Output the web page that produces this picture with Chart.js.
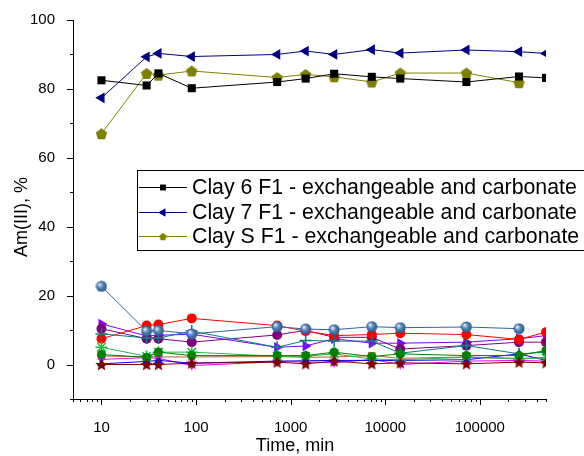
<!DOCTYPE html>
<html>
<head>
<meta charset="utf-8">
<script src="https://cdn.jsdelivr.net/npm/chart.js@4.4.0/dist/chart.umd.min.js"></script>
<style>
body { margin: 0; background: #fff; }
</style>
</head>
<body>
<canvas id="chart" width="584" height="456"></canvas>
<script>
// time points, min
const times = [10, 30, 40, 90, 720, 1440, 2880, 7200, 14400, 72000, 259200, 500000];

// series shown in the legend
const clay6 = [82.5, 81, 84.5, 80.2, 82, 83, 84.4, 83.5, 83, 82, 83.6, 83.2];
const clay7 = [77.4, 89.3, 90.3, 89.4, 90, 91, 90, 91.4, 90.4, 91.3, 90.8, 90.3];
const clayS = [67, 84.5, 84, 85.2, 83.3, 84.2, 83.5, 82, 84.6, 84.6, 81.8, null];

// other fractions (not in legend)
const sphereVals = [22.7, 9.7, 9.9, 8.9, 11, 10.3, 10.1, 11, 10.7, 10.9, 10.4, null];
const redVals = [7.5, 11.3, 11.6, 13.4, 11.3, 9.7, 8.4, 8.7, 9.1, 8.7, 7.3, 9.4];
const purpleVals = [10.4, 7.5, 7.5, 6.5, 8.6, 9.9, 7.9, 7.9, 4.5, 5.5, 6.5, 6.5];
const violetVals = [11.8, 8.3, 8.5, 8.8, 5, 5.4, 7.5, 6.2, 6.2, 6.5, 7.5, 8.4];
const tealVals = [8.9, 7.7, 7.7, 9.7, 5, 7, 6.8, 6.8, 3.3, 5.5, 3.1, 3.6];
const limeVals = [5, 2.4, 3.6, 3.6, 2.4, 2.4, 3.1, 1.6, 1.4, 2.1, 1.6, 2];
const greenVals = [2.9, 2.1, 3.6, 2.6, 2.6, 2.6, 3.6, 2.3, 3.1, 2.6, 2.6, 4.1];
const brownVals = [2.5, 2.2, 2.2, 2.2, 2.3, 2.1, 2.2, 2.6, 1.8, 2.2, 1.8, 2];
const blueVals = [0.2, 0.9, 1.2, 0.4, 1, 1.1, 1.2, 1.2, 1.2, 1.4, 3.1, 1.2];
const magentaVals = [1.5, 2, 1.8, -0.3, 0.8, 0.8, 0.5, 1.5, 0, 1, 1.2, 1];
const starVals = [0, 0, 0, 0.4, 0.7, 0.2, 1, 0.2, 0.5, 0.2, 0.7, 0.5];

const legendLabels = [
    'Clay 6 F1 - exchangeable and carbonate',
    'Clay 7 F1 - exchangeable and carbonate',
    'Clay S F1 - exchangeable and carbonate'
];

const yMajor = [0, 20, 40, 60, 80, 100];
const xMajor = [10, 100, 1000, 10000, 100000];

function makeCanvas(size, draw) {
    const c = document.createElement('canvas');
    c.width = size;
    c.height = size;
    draw(c.getContext('2d'), size / 2);
    return c;
}

function pentagon(size, color) {
    return makeCanvas(size, (g, r) => {
        g.fillStyle = color;
        g.beginPath();
        for (let i = 0; i < 5; i++) {
            const a = -Math.PI / 2 + i * 2 * Math.PI / 5;
            g.lineTo(r + Math.cos(a) * (r - 0.5), r + 0.6 + Math.sin(a) * (r - 0.5));
        }
        g.closePath();
        g.fill();
    });
}

const sphere = makeCanvas(12, (g, r) => {
    const grad = g.createRadialGradient(r - 2, r - 2, 0.5, r, r, r);
    grad.addColorStop(0, '#dce8f4');
    grad.addColorStop(0.45, '#4f82b8');
    grad.addColorStop(1, '#24507e');
    g.fillStyle = grad;
    g.beginPath();
    g.arc(r, r, r - 0.5, 0, Math.PI * 2);
    g.fill();
});

const filledStar = makeCanvas(13, (g, r) => {
    g.fillStyle = '#800000';
    g.beginPath();
    for (let i = 0; i < 10; i++) {
        const a = -Math.PI / 2 + i * Math.PI / 5;
        const rr = i % 2 === 0 ? r : r * 0.45;
        g.lineTo(r + Math.cos(a) * rr, r + 0.5 + Math.sin(a) * rr);
    }
    g.closePath();
    g.fill();
});

function pts(vals) {
    return times.map((t, i) => ({ x: t, y: vals[i] })).filter(p => p.y !== null);
}

function series(label, vals, color, style, radius, extra) {
    return Object.assign({
        label: label,
        data: pts(vals),
        borderColor: color,
        backgroundColor: color,
        pointBackgroundColor: color,
        pointBorderColor: color,
        borderWidth: 1,
        pointBorderWidth: 0,
        pointStyle: style,
        pointRadius: radius,
        pointHoverRadius: radius,
        tension: 0
    }, extra || {});
}

const datasets = [
    series(legendLabels[0], clay6, '#000000', 'rect', 5.7),
    series(legendLabels[1], clay7, '#000080', 'triangle', 6.2, { pointRotation: -90 }),
    series(legendLabels[2], clayS, '#808000', pentagon(13, '#808000'), 6),
    series('s', starVals, '#800000', filledStar, 6),
    series('sp', sphereVals, '#336699', sphere, 6),
    series('g', greenVals, '#008000', 'circle', 4.6),
    series('l', limeVals, '#22bb44', 'star', 6, { pointBorderWidth: 1.5 }),
    series('t', tealVals, '#008080', 'cross', 6, { pointBorderWidth: 1.5 }),
    series('b', blueVals, '#0000ff', 'triangle', 5),
    series('m', magentaVals, '#ff00ff', 'triangle', 5, { pointRotation: 180 }),
    series('br', brownVals, '#b8642c', 'crossRot', 5, { pointBorderWidth: 1.5 }),
    series('r', redVals, '#ff0000', 'circle', 5),
    series('p', purpleVals, '#800080', 'circle', 5),
    series('v', violetVals, '#8000ff', 'triangle', 6, { pointRotation: 90 })
];

const decor = {
    id: 'decor',
    afterDraw(chart) {
        const ctx = chart.ctx;
        const xs = chart.scales.x;
        const ys = chart.scales.y;
        const area = chart.chartArea;
        ctx.save();
        ctx.strokeStyle = '#000';
        ctx.lineWidth = 1;
        ctx.beginPath();
        // y ticks
        for (let v = -10; v <= 100; v += 10) {
            const py = Math.round(ys.getPixelForValue(v)) + 0.5;
            const len = yMajor.includes(v) ? 6 : 3;
            ctx.moveTo(area.left - len, py);
            ctx.lineTo(area.left, py);
        }
        // x ticks
        for (let e = 0; e <= 5; e++) {
            for (let k = 1; k <= 9; k++) {
                const v = k * Math.pow(10, e);
                if (v < 5 || v > 500000) continue;
                const px = Math.round(xs.getPixelForValue(v)) + 0.5;
                const len = k === 1 ? 6 : 3;
                ctx.moveTo(px, area.bottom);
                ctx.lineTo(px, area.bottom + len);
            }
        }
        ctx.stroke();

        // axis titles
        ctx.fillStyle = '#000';
        ctx.font = '18px "Liberation Sans", Arial, sans-serif';
        ctx.textAlign = 'center';
        ctx.textBaseline = 'middle';
        ctx.fillText('Time, min', 295, 446);
        ctx.save();
        ctx.translate(22, 217);
        ctx.rotate(-Math.PI / 2);
        ctx.fillText('Am(III), %', 0, 0);
        ctx.restore();

        // legend
        const lx = 137.5, ly = 170.5;
        ctx.fillStyle = '#fff';
        ctx.fillRect(lx, ly, 460, 80);
        ctx.strokeRect(lx, ly, 460, 80);
        const rows = [187, 212, 236];
        const markers = [
            { pointStyle: 'rect', radius: 4.2, rotation: 0 },
            { pointStyle: 'triangle', radius: 5, rotation: -90 },
            { pointStyle: pentagon(9, '#808000'), radius: 4.5, rotation: 0 }
        ];
        ctx.font = '21.3px "Liberation Sans", Arial, sans-serif';
        ctx.textAlign = 'left';
        for (let i = 0; i < 3; i++) {
            const d = chart.data.datasets[i];
            ctx.strokeStyle = d.borderColor;
            ctx.beginPath();
            ctx.moveTo(139, rows[i] + 0.5);
            ctx.lineTo(187, rows[i] + 0.5);
            ctx.stroke();
            ctx.fillStyle = d.borderColor;
            Chart.helpers.drawPoint(ctx, Object.assign({ borderWidth: 0 }, markers[i]), 163, rows[i] + 0.5);
            ctx.fillStyle = '#000';
            ctx.fillText(legendLabels[i], 192, rows[i] + 1);
        }
        ctx.restore();
    }
};

new Chart(document.getElementById('chart'), {
    type: 'line',
    data: { datasets: datasets },
    options: {
        responsive: false,
        animation: false,
        devicePixelRatio: 1,
        layout: { padding: { left: 0, top: 20, right: 38, bottom: 0 } },
        plugins: { legend: { display: false }, tooltip: { enabled: false } },
        scales: {
            x: {
                type: 'logarithmic',
                min: 5,
                max: 500000,
                grid: { display: false },
                border: { display: true, color: '#000', width: 1 },
                ticks: {
                    autoSkip: false,
                    maxRotation: 0,
                    padding: 12,
                    color: '#000',
                    font: { family: '"Liberation Sans", Arial, sans-serif', size: 15 },
                    callback: v => xMajor.includes(v) ? String(v) : ''
                },
                afterFit: s => { s.height = 57; }
            },
            y: {
                min: -10,
                max: 100,
                grid: { display: false },
                border: { display: true, color: '#000', width: 1 },
                ticks: {
                    stepSize: 10,
                    autoSkip: false,
                    padding: 10,
                    color: '#000',
                    font: { family: '"Liberation Sans", Arial, sans-serif', size: 15 },
                    callback: v => yMajor.includes(v) ? String(v) : ''
                },
                afterFit: s => { s.width = 73; }
            }
        }
    },
    plugins: [decor]
});
</script>
</body>
</html>
